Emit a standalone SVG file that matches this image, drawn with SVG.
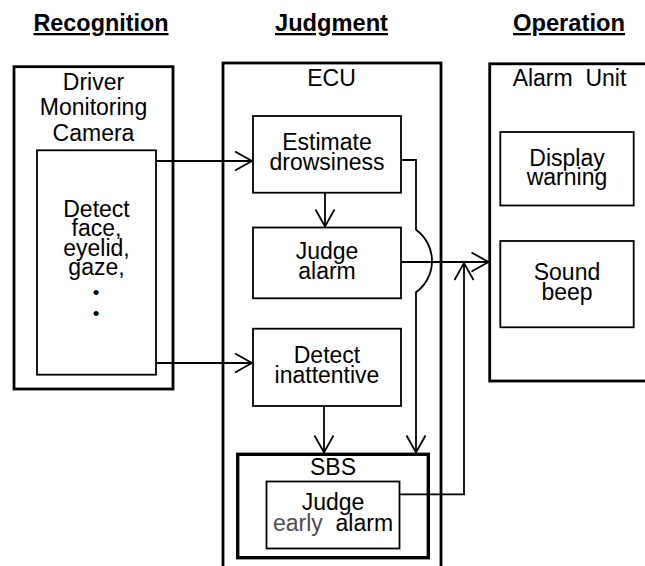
<svg xmlns="http://www.w3.org/2000/svg" width="645" height="566" viewBox="0 0 645 566">
  <defs>
    <style>
      text { font-family: "Liberation Sans", Arial, sans-serif; font-size: 23px; fill: #000; text-anchor: middle; white-space: pre; }
      .head { font-weight: bold; text-decoration: underline; }
      .dot { font-size: 19px; }
      .outer { fill: #fff; stroke: #000; stroke-width: 2.8; }
      .inner { fill: #fff; stroke: #000; stroke-width: 1.8; }
      .sbs { fill: #fff; stroke: #000; stroke-width: 3.4; }
      .arrow { fill: none; stroke: #000; stroke-width: 1.8; marker-end: url(#open-arrow); }
      .grey { fill: #4d4d4d; }
    </style>
    <marker id="open-arrow" markerUnits="userSpaceOnUse" markerWidth="24" markerHeight="24" viewBox="-20 -12 24 24" refX="0" refY="0" orient="auto" overflow="visible">
      <path d="M-17,-9.5 L0,0 L-17,9.5" fill="none" stroke="#000" stroke-width="1.8"/>
    </marker>
  </defs>

  <rect width="645" height="566" fill="#fff"/>

  <!-- column headings -->
  <g id="headings">
    <text class="head" x="101" y="31" textLength="135" lengthAdjust="spacingAndGlyphs">Recognition</text>
    <text class="head" x="331.5" y="31" textLength="113" lengthAdjust="spacingAndGlyphs">Judgment</text>
    <text class="head" x="569" y="31" textLength="112" lengthAdjust="spacingAndGlyphs">Operation</text>
  </g>

  <!-- recognition side -->
  <g id="camera">
    <rect class="outer" x="14" y="66.7" width="159" height="322.3"/>
    <text x="93.5" y="89.5">Driver</text>
    <text x="93.5" y="115.3">Monitoring</text>
    <text x="93.5" y="141">Camera</text>
  </g>
  <g id="detect-face">
    <rect class="inner" x="37" y="150.3" width="119" height="224.4"/>
    <text x="96.5" y="216.5">Detect</text>
    <text x="96.5" y="236">face,</text>
    <text x="96.5" y="255.5">eyelid,</text>
    <text x="96.5" y="275">gaze,</text>
    <text class="dot" x="96.2" y="299">•</text>
    <text class="dot" x="96.2" y="319.6">•</text>
  </g>

  <!-- judgment side -->
  <g id="ecu">
    <rect class="outer" x="223" y="63" width="218" height="520"/>
    <text x="331.5" y="86">ECU</text>
  </g>
  <g id="estimate-drowsiness">
    <rect class="inner" x="253" y="116" width="148" height="76.7"/>
    <text x="327" y="150">Estimate</text>
    <text x="327" y="170">drowsiness</text>
  </g>
  <g id="judge-alarm">
    <rect class="inner" x="253" y="227.5" width="148" height="70.8"/>
    <text x="327" y="258.5">Judge</text>
    <text x="327" y="278.5">alarm</text>
  </g>
  <g id="detect-inattentive">
    <rect class="inner" x="253" y="328.7" width="148" height="77.3"/>
    <text x="327" y="362.7">Detect</text>
    <text x="327" y="382.7">inattentive</text>
  </g>
  <g id="sbs">
    <rect class="sbs" x="237.7" y="454.3" width="190.6" height="103.4"/>
    <text x="333" y="475">SBS</text>
  </g>
  <g id="judge-early-alarm">
    <rect class="inner" x="266.5" y="481.5" width="133" height="67"/>
    <text x="333" y="510">Judge</text>
    <text x="333" y="531" xml:space="preserve"><tspan class="grey">early</tspan>  alarm</text>
  </g>

  <!-- operation side -->
  <g id="alarm-unit">
    <rect class="outer" x="489.7" y="63.8" width="170" height="317.2"/>
    <text x="569.5" y="86" xml:space="preserve">Alarm  Unit</text>
  </g>
  <g id="display-warning">
    <rect class="inner" x="500.3" y="132" width="133.4" height="73.5"/>
    <text x="567" y="165.5">Display</text>
    <text x="567" y="185">warning</text>
  </g>
  <g id="sound-beep">
    <rect class="inner" x="500.3" y="241" width="133.4" height="86.3"/>
    <text x="567" y="280">Sound</text>
    <text x="567" y="300">beep</text>
  </g>

  <!-- connectors -->
  <g id="connectors">
    <line class="arrow" x1="156" y1="161" x2="252" y2="161"/>
    <line class="arrow" x1="156" y1="363" x2="252" y2="363"/>
    <line class="arrow" x1="325" y1="192.7" x2="325" y2="226.5"/>
    <line class="arrow" x1="324" y1="406" x2="324" y2="452.5"/>
    <path class="arrow" d="M401,160 H416 V229.7 A38.6,38.6 0 0 1 416,292.3 V452.5"/>
    <line class="arrow" x1="401" y1="262" x2="488.5" y2="262"/>
    <path class="arrow" d="M399.5,494.3 H464 V263"/>
  </g>
</svg>
